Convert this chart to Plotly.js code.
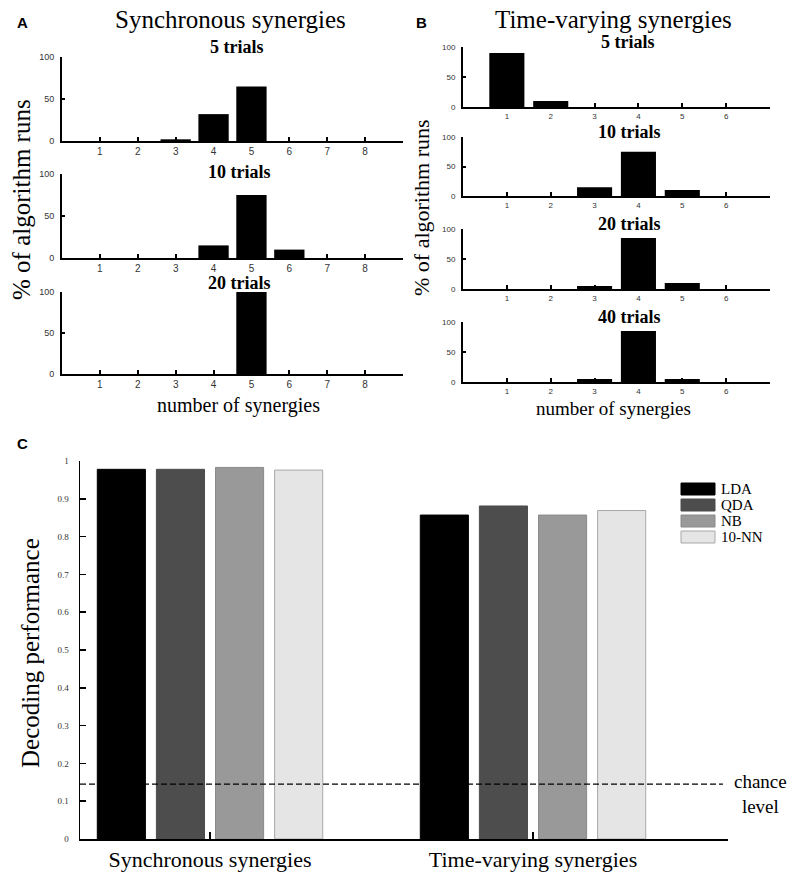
<!DOCTYPE html>
<html>
<head>
<meta charset="utf-8">
<script src="https://cdn.plot.ly/plotly-3.0.1.min.js"></script>
<style>html,body{margin:0;padding:0;background:#fff;}#chart{width:797px;height:873px;}</style>
</head>
<body>
<div id="chart"></div>
<script>
// ---------- data ----------
const synCounts = [1, 2, 3, 4, 5, 6, 7, 8];
const synTickVals = [1, 2, 3, 4, 5, 6, 7, 8, 9];
const synTickText = ['1', '2', '3', '4', '5', '6', '7', '8', ''];
const syn5 = [0, 0, 2, 32, 65, 0, 0, 0];
const syn10 = [0, 0, 0, 15, 75, 10, 0, 0];
const syn20 = [0, 0, 0, 0, 100, 0, 0, 0];

const tvCounts = [1, 2, 3, 4, 5, 6];
const tv5 = [90, 10, 0, 0, 0, 0];
const tv10 = [0, 0, 15, 75, 10, 0];
const tv20 = [0, 0, 5, 85, 10, 0];
const tv40 = [0, 0, 5, 85, 5, 0];

const pctTicks = [0, 50, 100];

const synergyTypes = ['Synchronous synergies', 'Time-varying synergies'];
const synergyPos = [1, 2];
const classifiers = ['LDA', 'QDA', 'NB', '10-NN'];
const perfLDA = [0.978, 0.857];
const perfQDA = [0.978, 0.881];
const perfNB = [0.983, 0.857];
const perfKNN = [0.976, 0.869];
const perfTicks = [0, 0.1, 0.2, 0.3, 0.4, 0.5, 0.6, 0.7, 0.8, 0.9, 1];
const perfTickText = ['0', '0.1', '0.2', '0.3', '0.4', '0.5', '0.6', '0.7', '0.8', '0.9', '1'];
const chanceLevel = 0.145;

// ---------- helpers ----------
const W = 797, H = 873;
const px = v => v / W;
const py = v => 1 - v / H;
const SERIF = 'Liberation Serif, Times New Roman, serif';
const SANS = 'Liberation Sans, Arial, sans-serif';

const classColors = ['#000000', '#4d4d4d', '#999999', '#e5e5e5'];
const classLines = ['#000000', '#4d4d4d', '#8a8a8a', '#a8a8a8'];
const perfSeries = [perfLDA, perfQDA, perfNB, perfKNN];

function histBar(xs, ys, ax) {
  return {
    type: 'bar', x: xs, y: ys, width: 0.8,
    xaxis: 'x' + (ax === 1 ? '' : ax), yaxis: 'y' + (ax === 1 ? '' : ax),
    marker: {color: '#000', line: {width: 0}},
    hoverinfo: 'x+y', showlegend: false
  };
}

const traces = [
  histBar(synCounts, syn5, 1),
  histBar(synCounts, syn10, 2),
  histBar(synCounts, syn20, 3),
  histBar(tvCounts, tv5, 4),
  histBar(tvCounts, tv10, 5),
  histBar(tvCounts, tv20, 6),
  histBar(tvCounts, tv40, 7)
];
classifiers.forEach((name, i) => {
  traces.push({
    type: 'bar', name: name, x: synergyPos, y: perfSeries[i],
    xaxis: 'x8', yaxis: 'y8',
    marker: {color: classColors[i], line: {color: classLines[i], width: 1}},
    showlegend: false
  });
});

function xAx(domain, range, tickvals, ticktext, size, anchor, standoff) {
  return {
    domain: domain, range: range, anchor: anchor,
    tickmode: 'array', tickvals: tickvals, ticktext: ticktext,
    ticks: 'inside', ticklen: 4, tickwidth: 2, tickcolor: '#000',
    showline: true, linewidth: 2, linecolor: '#000',
    showgrid: false, zeroline: false, fixedrange: true,
    ticklabelstandoff: standoff,
    tickfont: {family: SANS, size: size, color: '#333'}
  };
}
function yAx(domain, anchor, size) {
  return {
    domain: domain, range: [0, 100], anchor: anchor,
    tickmode: 'array', tickvals: pctTicks, ticktext: pctTicks.map(String),
    ticks: 'inside', ticklen: 3, tickwidth: 2, tickcolor: '#000',
    showline: true, linewidth: 2, linecolor: '#000',
    showgrid: false, zeroline: false, fixedrange: true,
    ticklabelstandoff: 4,
    tickfont: {family: SANS, size: size, color: '#333'}
  };
}

const aX = [px(62), px(403)];
const bX = [px(463), px(770)];
const tvTickText = tvCounts.map(String);

const layout = {
  width: W, height: H,
  margin: {l: 0, r: 0, t: 0, b: 0},
  paper_bgcolor: '#fff', plot_bgcolor: '#fff',
  showlegend: false,
  barmode: 'group', bargap: 0.268, bargroupgap: 0.186,
  xaxis: xAx(aX, [0, 9], synTickVals, synTickText, 10, 'y', 0),
  yaxis: yAx([py(141), py(57)], 'x', 9),
  xaxis2: xAx(aX, [0, 9], synTickVals, synTickText, 10, 'y2', 0),
  yaxis2: yAx([py(258), py(174)], 'x2', 9),
  xaxis3: xAx(aX, [0, 9], synTickVals, synTickText, 10, 'y3', 0),
  yaxis3: yAx([py(374), py(292)], 'x3', 9),
  xaxis4: xAx(bX, [0, 7], tvCounts, tvTickText, 8, 'y4', 0),
  yaxis4: yAx([py(107), py(47)], 'x4', 8),
  xaxis5: xAx(bX, [0, 7], tvCounts, tvTickText, 8, 'y5', 0),
  yaxis5: yAx([py(196), py(137)], 'x5', 8),
  xaxis6: xAx(bX, [0, 7], tvCounts, tvTickText, 8, 'y6', 0),
  yaxis6: yAx([py(289), py(229)], 'x6', 8),
  xaxis7: xAx(bX, [0, 7], tvCounts, tvTickText, 8, 'y7', 0),
  yaxis7: yAx([py(382), py(322)], 'x7', 8),
  xaxis8: {
    domain: [px(80), px(728)], range: [0.5975, 2.6037], anchor: 'y8',
    tickmode: 'array', tickvals: synergyPos, ticktext: synergyTypes,
    ticks: 'inside', ticklen: 7, tickwidth: 1.5, tickcolor: '#000',
    showline: true, linewidth: 1.5, linecolor: '#000',
    showgrid: false, zeroline: false, fixedrange: true,
    ticklabelstandoff: 0,
    tickfont: {family: SERIF, size: 22, color: '#000'}
  },
  yaxis8: {
    domain: [py(839), py(461)], range: [0, 1], anchor: 'x8',
    tickmode: 'array', tickvals: perfTicks, ticktext: perfTickText,
    ticks: 'inside', ticklen: 6, tickwidth: 1.5, tickcolor: '#000',
    showline: true, linewidth: 1.5, linecolor: '#000',
    showgrid: false, zeroline: false, fixedrange: true,
    ticklabelstandoff: 8,
    tickfont: {family: SERIF, size: 9, color: '#333'}
  },
  shapes: [
    {type: 'line', xref: 'x8', yref: 'y8', x0: 0.5975, x1: 2.588, y0: chanceLevel, y1: chanceLevel,
     line: {color: '#000', width: 1.2, dash: '6px,3px'}, layer: 'above'}
  ],
  annotations: []
};

// legend boxes for panel C
const legTop = [483, 499, 515, 531];
classifiers.forEach((name, i) => {
  layout.shapes.push({
    type: 'rect', xref: 'paper', yref: 'paper',
    x0: px(681), x1: px(715), y0: py(legTop[i] + 12), y1: py(legTop[i]),
    fillcolor: classColors[i], line: {color: classLines[i], width: 1}
  });
  layout.annotations.push({
    xref: 'paper', yref: 'paper', x: px(719), y: py(legTop[i] + 6),
    xanchor: 'left', yanchor: 'middle', showarrow: false, text: name,
    font: {family: SERIF, size: 15, color: '#000'}
  });
});

function ann(text, x, y, size, opts) {
  return Object.assign({
    xref: 'paper', yref: 'paper', x: px(x), y: py(y),
    xanchor: 'center', yanchor: 'middle', showarrow: false, text: text,
    font: {family: SERIF, size: size, color: '#000'}
  }, opts || {});
}

layout.annotations.push(
  ann('<b>A</b>', 22, 22, 15, {font: {family: SANS, size: 15, color: '#000'}}),
  ann('<b>B</b>', 421, 22, 15, {font: {family: SANS, size: 15, color: '#000'}}),
  ann('<b>C</b>', 22, 443, 15, {font: {family: SANS, size: 15, color: '#000'}}),
  ann('Synchronous synergies', 230, 19, 25),
  ann('Time-varying synergies', 613, 19, 25),
  ann('<b>5 trials</b>', 237, 47, 18),
  ann('<b>10 trials</b>', 239, 172, 18),
  ann('<b>20 trials</b>', 239, 283, 18),
  ann('<b>5 trials</b>', 628, 42, 18),
  ann('<b>10 trials</b>', 629, 132, 18),
  ann('<b>20 trials</b>', 629, 224, 18),
  ann('<b>40 trials</b>', 629, 317, 18),
  ann('% of algorithm runs', 22, 200, 25, {textangle: -90}),
  ann('% of algorithm runs', 421, 208, 22, {textangle: -90}),
  ann('number of synergies', 238, 405, 20),
  ann('number of synergies', 613, 408, 19),
  ann('Decoding performance', 30, 653, 25, {textangle: -90}),
  ann('chance<br>level', 760, 794, 19)
);

Plotly.newPlot('chart', traces, layout, {staticPlot: true, displayModeBar: false});
</script>
</body>
</html>
